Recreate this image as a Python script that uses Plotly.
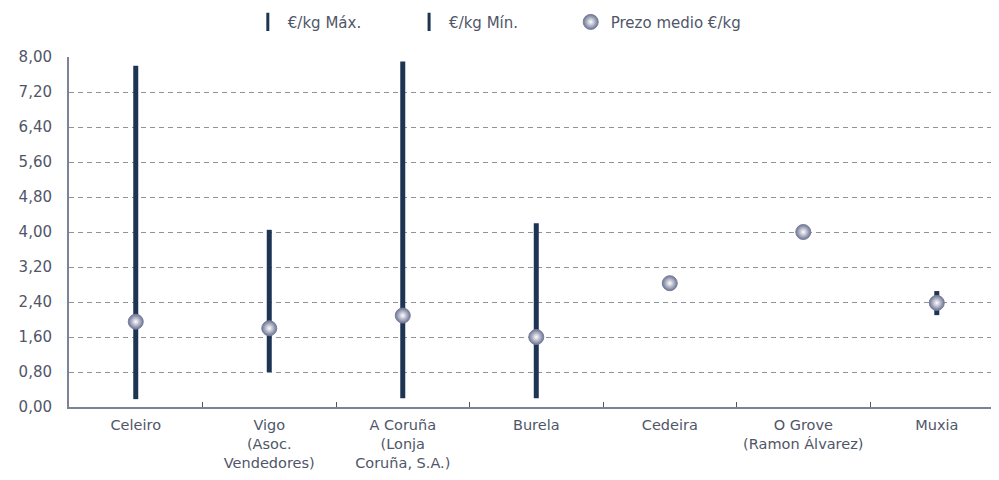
import plotly.graph_objects as go

categories = ["Celeiro", "Vigo<br>(Asoc.<br>Vendedores)", "A Coruña<br>(Lonja<br>Coruña, S.A.)",
              "Burela", "Cedeira", "O Grove<br>(Ramon Álvarez)", "Muxia"]
precio_max = [7.80, 4.05, 7.90, 4.20, 2.83, 4.00, 2.65]
precio_min = [0.18, 0.80, 0.20, 0.20, 2.83, 4.00, 2.10]
precio_medio = [1.95, 1.80, 2.09, 1.60, 2.83, 4.00, 2.38]
y_ticks = [0, 0.8, 1.6, 2.4, 3.2, 4.0, 4.8, 5.6, 6.4, 7.2, 8.0]

LINE = "#1d3552"
TXT = "#505668"
FONT = "DejaVu Sans, Arial, sans-serif"
NB = "\u00a0"

fig = go.Figure()

# segments mean -> max
xs, ys = [], []
for c, m, mx in zip(categories, precio_medio, precio_max):
    xs += [c, c, None]
    ys += [m, mx, None]
fig.add_trace(go.Scatter(x=xs, y=ys, mode="lines", line=dict(color=LINE, width=5),
                         showlegend=False, hoverinfo="skip"))
# segments min -> mean
xs, ys = [], []
for c, mn, m in zip(categories, precio_min, precio_medio):
    xs += [c, c, None]
    ys += [mn, m, None]
fig.add_trace(go.Scatter(x=xs, y=ys, mode="lines", line=dict(color=LINE, width=5),
                         showlegend=False, hoverinfo="skip"))

# legend entries
for name in ["€/kg Máx." + NB * 9, "€/kg Mín." + NB * 10]:
    fig.add_trace(go.Scatter(x=[None], y=[None], mode="markers", name=name,
                             marker=dict(symbol="line-ns-open", size=13, color=LINE,
                                         line=dict(color=LINE, width=3))))

fig.add_trace(go.Scatter(x=categories, y=precio_medio, mode="markers", name="Prezo medio €/kg",
                         marker=dict(size=15, color="#6e7494", symbol="circle",
                                     gradient=dict(type="radial", color="#ffffff"),
                                     line=dict(color="#777d9a", width=1))))

fig.update_layout(
    width=991, height=472,
    paper_bgcolor="white", plot_bgcolor="white",
    margin=dict(l=61, r=0, t=49, b=73),
    separators=",.",
    font=dict(family=FONT, color=TXT, size=13),
    legend=dict(orientation="h", x=0.242, xanchor="left", xref="container",
                y=0.97, yanchor="middle", yref="container",
                font=dict(size=15, color=TXT), itemwidth=30,
                traceorder="normal"),
)

fig.update_xaxes(type="category", range=[-0.5, 6.466], showgrid=False,
                 showline=True, linecolor="#7d8397", linewidth=2,
                 ticks="inside", tickson="boundaries", ticklen=5, tickcolor="#555",
                 tickfont=dict(size=14.5, color=TXT), ticklabelstandoff=4)
fig.update_yaxes(range=[0, 8.0], tickvals=y_ticks, tickformat=".2f",
                 showgrid=True, gridcolor="#8d929c", griddash="5px,4px", gridwidth=1,
                 showline=True, linecolor="#7d8397", linewidth=2,
                 zeroline=False, ticks="", ticklabelstandoff=12,
                 tickfont=dict(size=15, color=TXT))

fig.write_html("out.html")
